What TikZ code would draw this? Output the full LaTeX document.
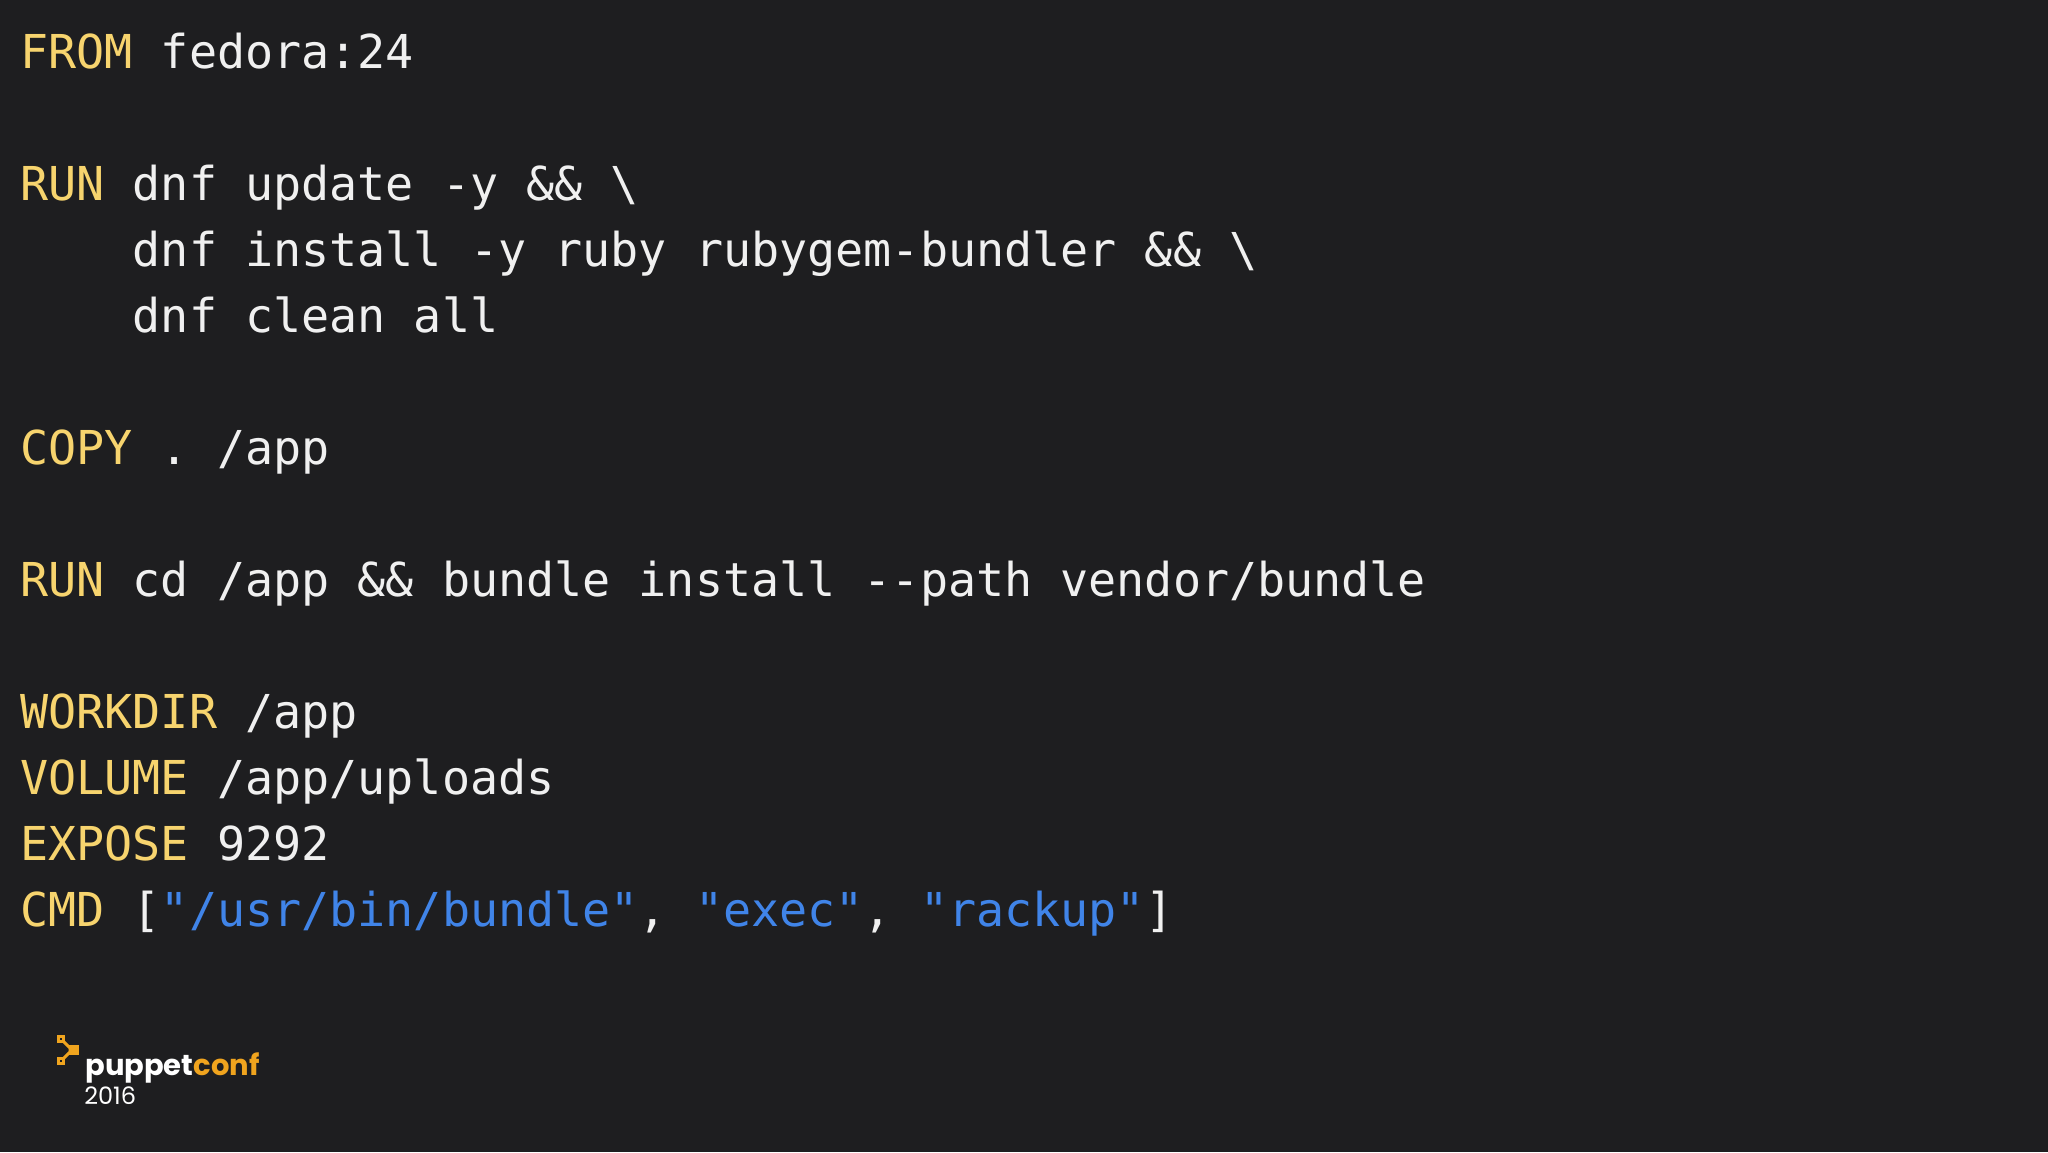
\documentclass[tikz,border=0pt]{standalone}
\usepackage{fontspec}
\setmainfont{DejaVu Sans Mono}
\newfontfamily\logofont{Poppins}
\definecolor{slidebg}{RGB}{30,30,32}
\definecolor{kwyellow}{RGB}{247,212,110}
\definecolor{strblue}{RGB}{64,132,232}
\definecolor{codewhite}{RGB}{240,240,240}
\definecolor{puppetorange}{RGB}{240,164,30}
\newcommand{\kw}[1]{\textcolor{kwyellow}{#1}}
\newcommand{\str}[1]{\textcolor{strblue}{\textquotedbl#1\textquotedbl}}
\tikzset{every picture/.style={line width=0.75pt},
  codeline/.style={anchor=base west,inner sep=0pt,text=codewhite,font=\fontsize{46.7}{56}\selectfont}}

\begin{document}
\begin{tikzpicture}[x=1pt,y=1pt,yscale=-1,xscale=1]
%Background
\fill[slidebg] (0,0) rectangle (2048,1152);
\useasboundingbox (0,0) rectangle (2048,1152);

% Code lines
\node[codeline] (from) at (20,68) {\kw{FROM} fedora:24};
\node[codeline] (run1) at (20,200) {\kw{RUN} dnf update -y \&\& \textbackslash};
\node[codeline] (run2) at (20,266) {\phantom{RUN }dnf install -y ruby rubygem-bundler \&\& \textbackslash};
\node[codeline] (run3) at (20,332) {\phantom{RUN }dnf clean all};
\node[codeline] (copy) at (20,464) {\kw{COPY} . /app};
\node[codeline] (run4) at (20,596) {\kw{RUN} cd /app \&\& bundle install -{}-path vendor/bundle};
\node[codeline] (workdir) at (20,728) {\kw{WORKDIR} /app};
\node[codeline] (volume) at (20,794) {\kw{VOLUME} /app/uploads};
\node[codeline] (expose) at (20,860) {\kw{EXPOSE} 9292};
\node[codeline] (cmd) at (20,926) {\kw{CMD} [\str{/usr/bin/bundle}, \str{exec}, \str{rackup}]};

% Logo
\draw[puppetorange,line width=3] (58.5,1036.5) rectangle (63.5,1041.5);
\draw[puppetorange,line width=3] (58.5,1058.5) rectangle (63.5,1063.5);
\draw[puppetorange,line width=3] (63.5,1041.5) -- (70,1048) -- (70,1052) -- (63.5,1058.5);
\fill[puppetorange] (69,1045) rectangle (79,1055);
\node[anchor=base west,inner sep=0pt,font=\logofont\bfseries\fontsize{29}{29}\selectfont] (brand) at (85,1075) {\textcolor{white}{puppet}\textcolor{puppetorange}{conf}};
\node[anchor=base west,inner sep=0pt,text=white,font=\logofont\fontsize{24}{24}\selectfont] (year) at (84,1104) {2016};
\end{tikzpicture}
\end{document}
